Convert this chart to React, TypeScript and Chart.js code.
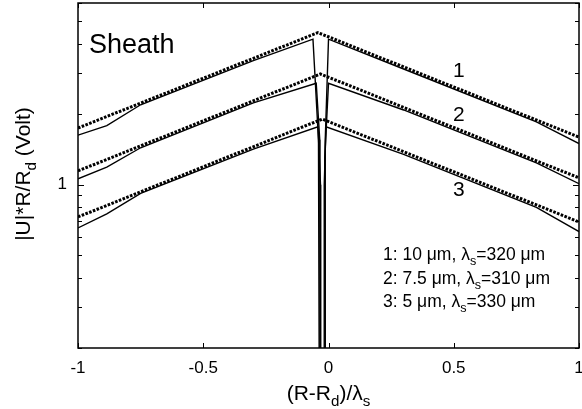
import React, { useEffect, useRef } from 'react';
import { Chart, registerables } from 'chart.js';
Chart.register(...registerables);

const FONT = '"Liberation Sans", Arial, Helvetica, sans-serif';

const xTicks = [-1, -0.5, 0, 0.5, 1];
const yTickValues = [0.2, 0.3, 0.4, 0.5, 0.6, 0.7, 0.8, 0.9, 1, 2, 3, 4, 5, 6];
const yLabelled = [1];

// model (dotted) curves
const model1X = [-1, -0.042, 1];
const model1Y = [1.75, 4.48, 1.6];
const model2X = [-1, -0.032, 1];
const model2Y = [1.146, 2.98, 1.07];
const model3X = [-1, -0.025, 1];
const model3Y = [0.728, 1.91, 0.693];

// measured (solid) curves
const meas1X = [-1, -0.885, -0.75, -0.3, -0.062, -0.04, -0.037, -0.01, -0.013, 0, 0.3, 0.83, 1];
const meas1Y = [1.63, 1.79, 2.2, 3.4, 4.2, 1.56, 0.15, 0.15, 1.56, 4.2, 3.13, 1.86, 1.5];
const meas2X = [-1, -0.885, -0.75, -0.3, -0.049, -0.035, -0.034, -0.013, -0.015, 0, 0.3, 0.83, 1];
const meas2Y = [1.06, 1.19, 1.44, 2.24, 2.72, 1.56, 0.15, 0.15, 1.3, 2.72, 2.09, 1.24, 1.01];
const meas3X = [-1, -0.885, -0.75, -0.3, -0.042, -0.032, -0.031, -0.016, -0.017, -0.01, 0.3, 0.83, 1];
const meas3Y = [0.653, 0.75, 0.918, 1.42, 1.77, 1.0, 0.15, 0.15, 1.0, 1.77, 1.35, 0.8, 0.63];

const curveLabels = ['1', '2', '3'];
const curveLabelX = [0.52, 0.52, 0.52];
const curveLabelY = [3.07, 1.99, 0.95];

const legendLines = [
  ['1: 10 μm, λ', 's', '=320 μm'],
  ['2: 7.5 μm, λ', 's', '=310 μm'],
  ['3: 5 μm, λ', 's', '=330 μm'],
];

type Part = { t: string; sub?: boolean };

function drawRich(ctx: CanvasRenderingContext2D, parts: Part[], x: number, y: number, size: number, align: 'left' | 'center') {
  const subSize = size * 0.72;
  let total = 0;
  for (const p of parts) {
    ctx.font = `${p.sub ? subSize : size}px ${FONT}`;
    total += ctx.measureText(p.t).width;
  }
  let cx = align === 'center' ? x - total / 2 : x;
  ctx.textAlign = 'left';
  ctx.textBaseline = 'alphabetic';
  for (const p of parts) {
    ctx.font = `${p.sub ? subSize : size}px ${FONT}`;
    ctx.fillText(p.t, cx, p.sub ? y + size * 0.3 : y);
    cx += ctx.measureText(p.t).width;
  }
}

const pts = (xs: number[], ys: number[]) => xs.map((x, i) => ({ x, y: ys[i] }));

const decor = {
  id: 'decor',
  afterDraw(chart: any) {
    const { ctx, chartArea: a, scales } = chart;
    const xs = scales.x;
    const ys = scales.y;
    ctx.save();
    ctx.strokeStyle = '#000';
    ctx.fillStyle = '#000';
    ctx.lineWidth = 1.5;
    ctx.strokeRect(a.left, a.top, a.right - a.left, a.bottom - a.top);
    ctx.lineWidth = 1;
    ctx.beginPath();
    for (const v of xTicks) {
      const px = Math.round(xs.getPixelForValue(v)) + 0.5;
      ctx.moveTo(px, a.bottom);
      ctx.lineTo(px, a.bottom - 5);
      ctx.moveTo(px, a.top);
      ctx.lineTo(px, a.top + 5);
    }
    for (const v of yTickValues) {
      const py = Math.round(ys.getPixelForValue(v)) + 0.5;
      const len = yLabelled.includes(v) ? 6 : 4;
      ctx.moveTo(a.left, py);
      ctx.lineTo(a.left + len, py);
      ctx.moveTo(a.right, py);
      ctx.lineTo(a.right - len, py);
    }
    ctx.stroke();

    // axis titles
    drawRich(ctx, [{ t: '(R-R' }, { t: 'd', sub: true }, { t: ')/λ' }, { t: 's', sub: true }], (a.left + a.right) / 2, 400, 21, 'center');
    ctx.save();
    ctx.translate(23, 174);
    ctx.rotate(-Math.PI / 2);
    drawRich(ctx, [{ t: '|U|*R/R' }, { t: 'd', sub: true }, { t: ' (Volt)' }], 0, 7, 21, 'center');
    ctx.restore();

    // Sheath
    ctx.font = `27px ${FONT}`;
    ctx.textAlign = 'left';
    ctx.textBaseline = 'alphabetic';
    ctx.fillText('Sheath', 89, 53);

    // curve labels
    ctx.font = `21px ${FONT}`;
    ctx.textAlign = 'center';
    ctx.textBaseline = 'middle';
    curveLabels.forEach((t, i) => {
      ctx.fillText(t, xs.getPixelForValue(curveLabelX[i]), ys.getPixelForValue(curveLabelY[i]));
    });

    // legend text
    const base = [260, 284, 307];
    legendLines.forEach((l, i) => {
      drawRich(ctx, [{ t: l[0] }, { t: l[1], sub: true }, { t: l[2] }], 383, base[i], 17.5, 'left');
    });
    ctx.restore();
  },
};

export default function App() {
  const ref = useRef<HTMLCanvasElement | null>(null);
  useEffect(() => {
    document.body.style.margin = '0';
    if (!ref.current) return;
    const solid = (d: any) => ({ data: d, borderColor: '#000', borderWidth: 1.4, pointRadius: 0, tension: 0, clip: 0, fill: false });
    const dotted = (d: any) => ({ data: d, borderColor: '#000', borderWidth: 3, borderDash: [2.6, 1.4], pointRadius: 0, tension: 0, clip: 0, fill: false });
    const chart = new Chart(ref.current, {
      type: 'line',
      data: {
        datasets: [
          solid(pts(meas1X, meas1Y)),
          solid(pts(meas2X, meas2Y)),
          solid(pts(meas3X, meas3Y)),
          dotted(pts(model1X, model1Y)),
          dotted(pts(model2X, model2Y)),
          dotted(pts(model3X, model3Y)),
        ] as any,
      },
      options: {
        animation: false,
        responsive: false,
        devicePixelRatio: 1,
        layout: { padding: { left: 0, right: 3, top: 3, bottom: 0 } },
        plugins: { legend: { display: false }, tooltip: { enabled: false } },
        scales: {
          x: {
            type: 'linear',
            min: -1,
            max: 1,
            grid: { display: false, drawTicks: false },
            border: { display: false },
            afterBuildTicks: (s: any) => { s.ticks = xTicks.map((v) => ({ value: v })); },
            afterFit: (s: any) => { s.height = 61; s.paddingLeft = 0; s.paddingRight = 0; },
            ticks: { color: '#000', font: { family: FONT, size: 17 }, padding: 10, maxRotation: 0, callback: (v: any) => String(v) },
          },
          y: {
            type: 'logarithmic',
            min: 0.2,
            max: 6,
            grid: { display: false, drawTicks: false },
            border: { display: false },
            afterBuildTicks: (s: any) => { s.ticks = yTickValues.map((v) => ({ value: v, major: false })); },
            afterFit: (s: any) => { s.width = 78; s.paddingTop = 0; s.paddingBottom = 0; },
            ticks: { color: '#000', font: { family: FONT, size: 17 }, padding: 11, autoSkip: false, callback: (v: any) => (yLabelled.includes(Number(v)) ? String(v) : '') },
          },
        },
      },
      plugins: [decor],
    } as any);
    return () => chart.destroy();
  }, []);
  return (
    <div style={{ width: 582, height: 409 }}>
      <canvas ref={ref} width={582} height={409} />
    </div>
  );
}
